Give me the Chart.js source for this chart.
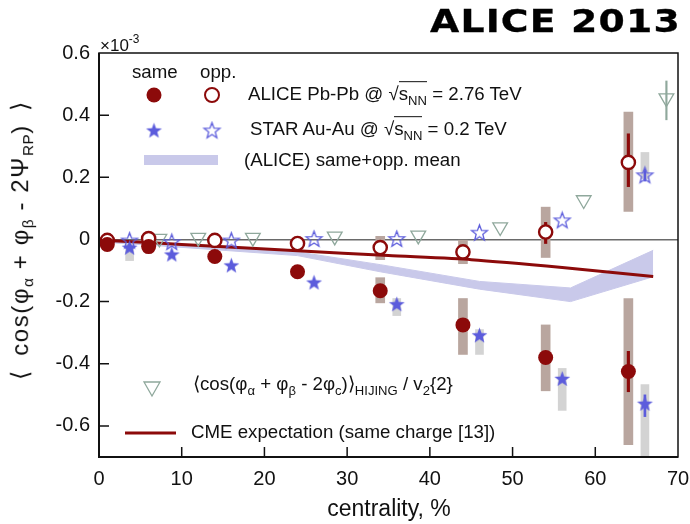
<!DOCTYPE html>
<html>
<head>
<meta charset="utf-8">
<script src="https://cdn.jsdelivr.net/npm/chart.js@4.4.0/dist/chart.umd.min.js"></script>
<style>
  body { margin: 0; background: #fff; }
  #wrap { position: relative; width: 690px; height: 524px; font-family: "Liberation Sans", Arial, sans-serif; color: #111; }
  #wrap canvas { position: absolute; left: 0; top: 0; }
  .t { position: absolute; white-space: nowrap; transform: translateY(-50%); font-size: 18.7px; line-height: 1; }
  .t sub { font-size: 70%; vertical-align: -0.35em; }
  .t sup { font-size: 70%; vertical-align: 0.6em; }
  .rt { border-top: 1.2px solid #111; padding-top: 1px; }
  #title { position: absolute; left: 430px; top: 5px; font-family: "DejaVu Sans", sans-serif; font-weight: bold; font-size: 32px; letter-spacing: 1px; line-height: 1; color: #000;
           transform-origin: 0 0; transform: scaleX(1.18); -webkit-text-stroke: 0.3px #000; }
  #ylab { position: absolute; left: 22px; top: 240px; transform: translate(-50%, -50%) rotate(-90deg); white-space: nowrap; font-size: 24px; letter-spacing: 1.6px; line-height: 1; }
  #ylab sub { font-size: 64%; vertical-align: -0.35em; letter-spacing: 0.5px; }
  #xlab { position: absolute; left: 389px; top: 508px; transform: translate(-50%, -50%); font-size: 23px; line-height: 1; white-space: nowrap; }
</style>
</head>
<body>
<div id="wrap">
  <canvas id="chart" width="690" height="524"></canvas>
  <div id="title">ALICE 2013</div>
  <div class="t" style="left:100px;top:44px;font-size:17px">×10<sup>-3</sup></div>
  <div class="t" style="left:132px;top:72px">same</div>
  <div class="t" style="left:200px;top:72px">opp.</div>
  <div class="t" style="left:248px;top:96px">ALICE Pb-Pb @ √<span class="rt">s<sub>NN</sub></span> = 2.76 TeV</div>
  <div class="t" style="left:250px;top:131px">STAR Au-Au @ √<span class="rt">s<sub>NN</sub></span> = 0.2 TeV</div>
  <div class="t" style="left:244px;top:160px">(ALICE) same+opp. mean</div>
  <div class="t" style="left:193px;top:386px">⟨cos(φ<sub>α</sub> + φ<sub>β</sub> - 2φ<sub>c</sub>)⟩<sub>HIJING</sub> / v<sub>2</sub>{2}</div>
  <div class="t" style="left:191px;top:432px">CME expectation (same charge [13])</div>
  <div id="ylab">⟨&ensp;cos(φ<sub>α</sub> + φ<sub>β</sub> - 2Ψ<sub>RP</sub>)&ensp;⟩</div>
  <div id="xlab">centrality, %</div>
</div>
<script>
// values in units of 1e-3
const aliceX = [1, 6, 14, 24, 34, 44, 54, 64];
const aliceSame = [-0.016, -0.023, -0.055, -0.104, -0.165, -0.275, -0.38, -0.425];
const aliceOpp = [-0.003, 0.003, -0.003, -0.013, -0.026, -0.04, 0.024, 0.248];

const starX = [3.7, 8.8, 16, 26, 36, 46, 56, 66];
const starSame = [-0.028, -0.05, -0.085, -0.14, -0.21, -0.31, -0.45, -0.53];
const starOpp = [-0.005, -0.01, -0.005, 0.0, 0.0, 0.02, 0.06, 0.205];

const hijingX = [7.3, 12, 18.6, 28.5, 38.6, 48.5, 58.6, 68.6];
const hijingY = [0.003, 0.006, 0.006, 0.01, 0.013, 0.04, 0.127, 0.455];

const cmeX = [1, 6, 14, 24, 35, 45, 56, 67];
const cmeY = [-0.003, -0.01, -0.022, -0.036, -0.052, -0.065, -0.09, -0.119];

const bandX = [1, 6, 14, 24, 34, 46, 57, 67];
const bandHi = [-0.004, -0.01, -0.022, -0.04, -0.081, -0.135, -0.156, -0.035];
const bandLo = [-0.01, -0.018, -0.033, -0.052, -0.104, -0.16, -0.2, -0.12];

// systematic boxes [x, top, bottom]
const aliceSys = [[34, -0.123, -0.204], [34, 0.01, -0.065], [44, -0.19, -0.37], [44, 0, -0.078],
                  [54, -0.275, -0.487], [54, 0.104, -0.058], [64, -0.19, -0.66], [64, 0.41, 0.09]];
const starSys = [[3.7, -0.01, -0.068], [36, -0.19, -0.245], [46, -0.29, -0.37], [56, -0.415, -0.55],
                 [66, -0.467, -0.7], [66, 0.28, 0.195]];
// statistical bars
const aliceStat = [[54, 0.055, -0.013], [64, 0.34, 0.17], [64, -0.36, -0.49]];
const starStat = [[66, -0.5, -0.57], [66, 0.222, 0.188]];
const hijingStat = [[68.6, 0.51, 0.385]];

const xTicks = [0, 10, 20, 30, 40, 50, 60, 70];
const yTicks = [-0.6, -0.4, -0.2, 0, 0.2, 0.4, 0.6];
const yTickLabels = ['-0.6', '-0.4', '-0.2', '0', '0.2', '0.4', '0.6'];

const red = '#8c0a0a';
const blue = '#5c5cdc';
const band = '#c9c9ea';
const tri = '#8fa89c';

function pts(xs, ys) { return xs.map((x, i) => ({ x: x, y: ys[i] })); }
function bars(list) { return list.map(b => ({ x: b[0], y: [b[2], b[1]] })); }

function makeStar(r, filled) {
  const s = Math.ceil(r * 2 + 4);
  const c = document.createElement('canvas');
  c.width = s; c.height = s;
  const g = c.getContext('2d');
  g.beginPath();
  for (let i = 0; i < 10; i++) {
    const rr = i % 2 === 0 ? r : r * 0.42;
    const a = -Math.PI / 2 + i * Math.PI / 5;
    const px = s / 2 + rr * Math.cos(a), py = s / 2 + rr * Math.sin(a);
    if (i === 0) g.moveTo(px, py); else g.lineTo(px, py);
  }
  g.closePath();
  if (filled) { g.fillStyle = blue; g.fill(); }
  else { g.strokeStyle = blue; g.lineWidth = 1.3; g.stroke(); }
  return c;
}
const starFull = makeStar(8.3, true);
const starOpen = makeStar(8.3, false);

const frame = {
  id: 'frame',
  afterDraw(chart) {
    const ctx = chart.ctx, a = chart.chartArea;
    const xs = chart.scales.x, ys = chart.scales.y;
    ctx.save();
    ctx.strokeStyle = '#111';
    ctx.lineWidth = 1.5;
    ctx.strokeRect(a.left, a.top, a.right - a.left, a.bottom - a.top);
    ctx.lineWidth = 2;
    ctx.beginPath();
    ctx.moveTo(a.left, a.top); ctx.lineTo(a.left, a.bottom); ctx.lineTo(a.right, a.bottom);
    ctx.stroke();
    ctx.lineWidth = 1.5;
    ctx.beginPath();
    yTicks.forEach(v => {
      if (v === 0 || v === 0.6) return;
      const py = ys.getPixelForValue(v);
      ctx.moveTo(a.left, py); ctx.lineTo(a.left + 10, py);
    });
    xTicks.forEach(v => {
      if (v === 0 || v === 70) return;
      const px = xs.getPixelForValue(v);
      ctx.moveTo(px, a.bottom); ctx.lineTo(px, a.bottom - 10);
    });
    ctx.stroke();

    // legend symbols
    ctx.fillStyle = red;
    ctx.beginPath(); ctx.arc(154, 95, 7.5, 0, Math.PI * 2); ctx.fill();
    ctx.fillStyle = '#fff'; ctx.strokeStyle = red; ctx.lineWidth = 2;
    ctx.beginPath(); ctx.arc(212, 95, 7, 0, Math.PI * 2); ctx.fill(); ctx.stroke();
    ctx.drawImage(starFull, 154 - starFull.width / 2, 131 - starFull.height / 2);
    ctx.drawImage(starOpen, 212 - starOpen.width / 2, 131 - starOpen.height / 2);
    ctx.fillStyle = band;
    ctx.fillRect(144, 155, 74, 10);
    ctx.strokeStyle = tri; ctx.lineWidth = 1.3;
    ctx.beginPath();
    ctx.moveTo(144, 382); ctx.lineTo(160, 382); ctx.lineTo(152, 396); ctx.closePath();
    ctx.stroke();
    ctx.strokeStyle = red; ctx.lineWidth = 3;
    ctx.beginPath(); ctx.moveTo(125, 433); ctx.lineTo(176, 433); ctx.stroke();
    ctx.restore();
  }
};

new Chart(document.getElementById('chart'), {
  type: 'scatter',
  data: {
    datasets: [
      { data: pts(aliceX, aliceSame), pointStyle: 'circle', pointRadius: 7.5, backgroundColor: red, borderColor: red, borderWidth: 0, order: 1 },
      { data: pts(aliceX, aliceOpp), pointStyle: 'circle', pointRadius: 6.6, backgroundColor: '#fff', borderColor: red, borderWidth: 2.4, order: 2 },
      { data: pts(starX, starSame), pointStyle: starFull, order: 3 },
      { data: pts(starX, starOpp), pointStyle: starOpen, order: 3 },
      { data: pts(hijingX, hijingY), pointStyle: 'triangle', rotation: 180, pointRadius: 8.5, backgroundColor: 'rgba(0,0,0,0)', borderColor: tri, borderWidth: 1.3, order: 4 },
      { type: 'line', data: pts(cmeX, cmeY), borderColor: red, borderWidth: 3, pointRadius: 0, tension: 0.2, fill: false, order: 6 },
      { type: 'bar', data: bars(aliceStat), backgroundColor: red, barThickness: 2.5, grouped: false, order: 5 },
      { type: 'bar', data: bars(starStat), backgroundColor: blue, barThickness: 2, grouped: false, order: 5 },
      { type: 'bar', data: bars(hijingStat), backgroundColor: tri, barThickness: 1.5, grouped: false, order: 5 },
      { type: 'bar', data: bars(aliceSys), backgroundColor: '#b9a69f', barThickness: 9, grouped: false, order: 7 },
      { type: 'bar', data: bars(starSys), backgroundColor: '#d3d3d3', barThickness: 8, grouped: false, order: 7 },
      { type: 'line', data: pts(bandX, bandHi), borderColor: band, borderWidth: 1, backgroundColor: band, pointRadius: 0, fill: '+1', order: 9 },
      { type: 'line', data: pts(bandX, bandLo), borderColor: band, borderWidth: 1, backgroundColor: band, pointRadius: 0, fill: false, order: 9 }
    ]
  },
  options: {
    responsive: false,
    animation: false,
    layout: { padding: { top: 53, right: 12, left: 0, bottom: 0 } },
    plugins: { legend: { display: false }, tooltip: { enabled: false } },
    scales: {
      x: {
        type: 'linear', min: 0, max: 70, offset: false,
        afterFit: s => { s.height = 67; s.paddingLeft = 0; s.paddingRight = 0; },
        afterBuildTicks: s => { s.ticks = xTicks.map(v => ({ value: v })); },
        grid: { display: false, drawTicks: false },
        border: { display: false },
        ticks: { padding: 10, color: '#111', font: { family: 'Liberation Sans', size: 20 }, maxRotation: 0, callback: v => String(v) }
      },
      y: {
        min: -0.7, max: 0.6,
        afterFit: s => { s.width = 99; s.paddingTop = 0; s.paddingBottom = 0; },
        afterBuildTicks: s => { s.ticks = yTicks.map(v => ({ value: v })); },
        grid: { drawTicks: false, lineWidth: 1.5, color: c => (c.tick && c.tick.value === 0) ? '#6a6a6a' : 'rgba(0,0,0,0)' },
        border: { display: false },
        ticks: { padding: 9, color: '#111', font: { family: 'Liberation Sans', size: 20 }, callback: (v, i) => yTickLabels[i] }
      }
    }
  },
  plugins: [frame]
});
</script>
</body>
</html>
